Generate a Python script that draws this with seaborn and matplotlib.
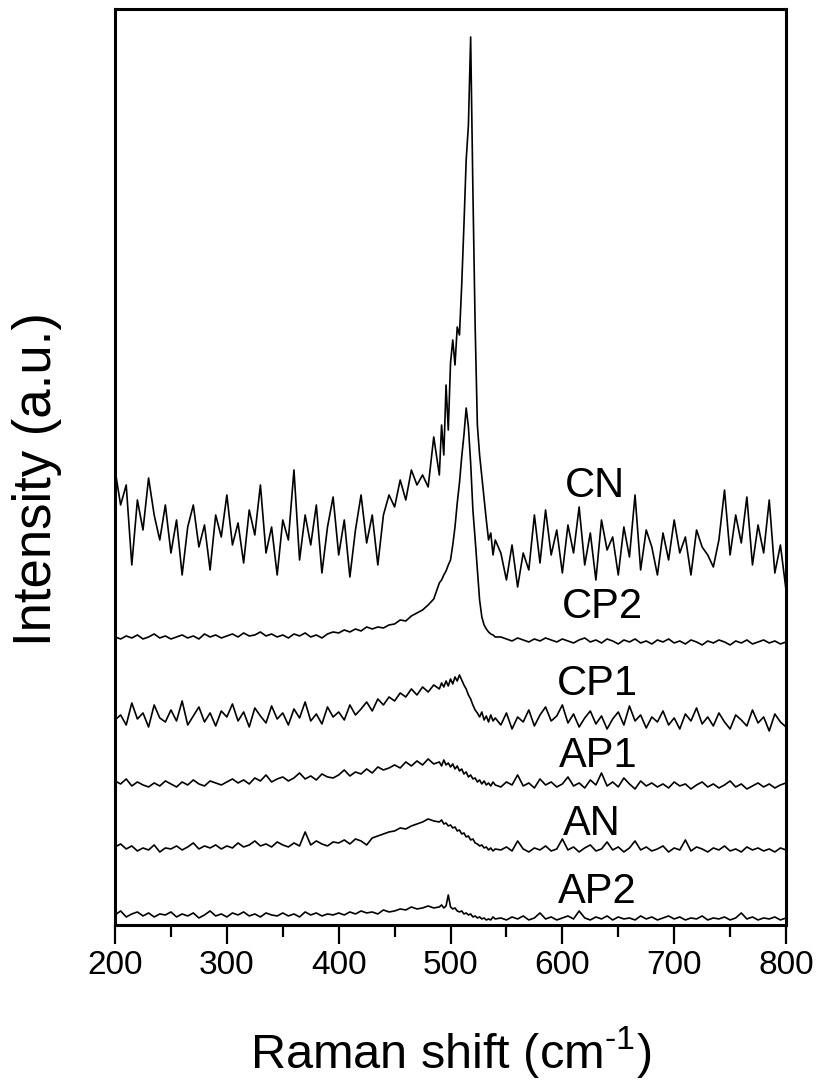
import numpy as np
import pandas as pd
import seaborn as sns
import matplotlib.pyplot as plt

# raman shift grid: 5 cm-1 steps, 2 cm-1 steps around the Si band
shift = np.concatenate([np.arange(200, 490, 5), np.arange(490, 541, 2), np.arange(545, 801, 5)])

# intensities (a.u., curves already offset as in the figure)
cn = [455, 420, 440, 360, 425, 395, 447, 410, 385, 420,
      372, 405, 350, 398, 420, 378, 400, 355, 410, 388,
      430, 380, 402, 362, 415, 390, 440, 372, 398, 350,
      405, 385, 455, 365, 410, 380, 420, 352, 398, 428,
      370, 405, 348, 395, 430, 382, 410, 360, 410, 430,
      418, 445, 425, 455, 440, 450, 438, 488,
      450, 500, 470, 540, 495, 562, 585, 560, 598, 590,
      640, 700, 765, 800, 888, 735, 600, 500, 470, 448,
      425, 405, 385, 392, 370, 385,
      372, 345, 380, 338, 372, 355, 410, 362, 415, 370,
      395, 352, 400, 372, 418, 360, 392, 345, 405, 375,
      388, 350, 398, 368, 430, 355, 395, 378, 350, 392,
      365, 405, 372, 388, 350, 395, 378, 370, 358, 385,
      435, 370, 410, 382, 428, 360, 400, 372, 425, 352,
      380, 335]

cp2 = [288, 286, 289, 287, 290, 286, 288, 291, 287, 289,
       286, 288, 290, 287, 289, 286, 291, 288, 290, 287,
       289, 291, 288, 292, 289, 290, 293, 289, 291, 288,
       290, 287, 291, 289, 292, 288, 290, 287, 291, 293,
       292, 295, 293, 296, 294, 298, 296, 298, 297, 300,
       301, 305, 304, 309, 312, 315, 320, 326,
       342, 345, 350, 354, 360, 365, 380, 398, 422, 442,
       468, 490, 517, 498, 462, 415, 386, 355, 325, 308,
       300, 296, 293, 291, 290, 288,
       288, 286, 284, 287, 285, 283, 286, 284, 287, 285,
       283, 286, 284, 282, 285, 287, 283, 285, 282, 286,
       284, 281, 285, 283, 286, 282, 284, 281, 285, 283,
       286, 282, 284, 281, 285, 283, 280, 284, 282, 285,
       283, 280, 284, 282, 285, 281, 283, 285, 282, 284,
       281, 283]

cp1 = [205, 210, 200, 222, 206, 212, 198, 220, 207, 203,
       215, 204, 224, 200, 209, 218, 203, 212, 199, 214,
       208, 221, 204, 213, 198, 217, 209, 202, 219, 206,
       212, 200, 216, 207, 223, 204, 211, 201, 218, 208,
       213, 205, 220, 210, 216, 223, 214, 226, 220, 228,
       224, 232, 228, 236, 230, 238, 233, 240,
       236, 242, 238, 244, 239, 246, 241, 248, 244, 250,
       245, 240, 236, 230, 226, 220, 215, 212, 208, 213,
       205, 209, 203, 210, 204, 207,
       200, 212, 196, 208, 203, 215, 199, 210, 218, 204,
       209, 220, 202, 211, 198, 207, 214, 201, 209, 196,
       206, 213, 200, 219, 204, 210, 197, 208, 203, 214,
       200, 207, 196, 211, 204, 217, 201, 208, 199, 212,
       203, 196, 210, 205, 199, 215, 202, 208, 194, 211,
       203, 198]

ap1 = [144, 141, 146, 139, 143, 140, 138, 142, 139, 144,
       141, 138, 143, 140, 145, 141, 139, 144, 142, 140,
       143, 146, 142, 145, 141, 147, 144, 150, 143, 146,
       148, 144, 147, 152, 146, 149, 145, 151, 148, 147,
       150, 155, 149, 153, 151, 156, 152, 158, 155, 157,
       160, 157, 163, 159, 164, 160, 166, 161,
       163, 159, 165, 160, 162, 158, 161, 156, 159, 154,
       156, 151, 153, 148, 150, 146, 147, 143, 145, 141,
       144, 140, 142, 139, 143, 140,
       138, 143, 140, 150, 139, 142, 137, 146, 140, 143,
       138, 141, 148, 139, 142, 137, 145, 140, 152, 139,
       143, 138, 147, 141, 136, 144, 139, 142, 138, 141,
       137, 143, 139, 141, 136, 140, 143, 138, 141, 137,
       140, 144, 138, 141, 136, 139, 142, 138, 141, 137,
       140, 142]

an = [78, 81, 76, 79, 74, 77, 75, 80, 73, 77,
      76, 79, 75, 78, 82, 76, 79, 77, 80, 76,
      79, 77, 82, 78, 80, 84, 79, 81, 78, 83,
      80, 78, 82, 79, 93, 80, 84, 81, 79, 83,
      82, 85, 81, 86, 84, 80, 87, 89, 91, 93,
      94, 97, 96, 99, 101, 103, 106, 104,
      103, 105, 101, 102, 99, 100, 97, 98, 94, 95,
      91, 92, 88, 89, 85, 86, 82, 81, 79, 80,
      77, 78, 75, 77, 74, 76,
      75, 78, 74, 84, 76, 73, 77, 75, 79, 74,
      76, 86, 75, 78, 73, 77, 80, 74, 76, 83,
      75, 78, 73, 77, 84, 75, 78, 74, 76, 79,
      73, 77, 75, 85, 74, 78, 76, 73, 77, 75,
      79, 74, 76, 73, 78, 75, 77, 74, 76, 73,
      77, 75]

ap2 = [10, 14, 8, 11, 13, 9, 12, 8, 11, 10,
       13, 8, 11, 9, 12, 7, 10, 14, 9, 11,
       8, 12, 10, 13, 9, 11, 8, 12, 10, 9,
       12, 9, 11, 8, 13, 10, 12, 9, 11, 10,
       12, 10, 13, 11, 14, 12, 13, 11, 15, 13,
       14, 16, 15, 18, 16, 17, 19, 17,
       18, 20, 17, 19, 30, 18, 16, 17, 14, 13,
       14, 11, 12, 10, 11, 8, 9, 7, 8, 6,
       7, 5, 6, 5, 8, 6,
       7, 5, 8, 6, 9, 5, 7, 12, 6, 8,
       5, 7, 9, 6, 14, 7, 5, 8, 6, 9,
       5, 8, 6, 7, 5, 9, 6, 8, 5, 7,
       9, 6, 8, 5, 7, 6, 9, 5, 7, 6,
       8, 5, 7, 12, 6, 8, 5, 7, 6, 8,
       5, 7]

samples = ['CN', 'CP2', 'CP1', 'AP1', 'AN', 'AP2']
label_x = [629, 636, 631, 632, 626, 631]
label_y = [428, 307, 230, 158, 90, 22]

df = pd.DataFrame({
    'shift': np.tile(shift, len(samples)),
    'intensity': np.concatenate([cn, cp2, cp1, ap1, an, ap2]),
    'sample': np.repeat(samples, len(shift)),
})

sns.set_style('ticks')
plt.rcParams['font.family'] = ['Liberation Sans', 'DejaVu Sans']
plt.rcParams['mathtext.fontset'] = 'custom'
plt.rcParams['mathtext.rm'] = 'Liberation Sans'
plt.rcParams['text.color'] = 'black'
plt.rcParams['axes.labelcolor'] = 'black'
plt.rcParams['xtick.color'] = 'black'
plt.rcParams['xtick.labelcolor'] = 'black'

fig = plt.figure(figsize=(8.24, 10.85), dpi=100)
ax = fig.add_axes([0.1396, 0.1475, 0.8143, 0.8442])

sns.lineplot(data=df, x='shift', y='intensity', hue='sample', estimator=None,
             palette={s: 'black' for s in samples}, linewidth=1.2, legend=False, ax=ax)

for s, lx, ly in zip(samples, label_x, label_y):
    ax.text(lx, ly, s, fontsize=30, ha='center', va='baseline', color='black')

ax.set_xlim(200, 800)
ax.set_ylim(0, 916)
ax.set_xticks(np.arange(200, 801, 100))
ax.set_xticks(np.arange(250, 800, 100), minor=True)
ax.set_yticks([])
ax.tick_params(axis='x', which='major', direction='out', length=14, width=1.6,
               labelsize=24, pad=4, colors='black')
ax.tick_params(axis='x', which='minor', direction='out', length=8.5, width=1.6, colors='black')
for sp in ax.spines.values():
    sp.set_linewidth(2.2)
    sp.set_color('black')

ax.set_xlabel(r'Raman shift (cm$^{\text{-1}}$)', fontsize=35, color='black')
ax.set_ylabel('Intensity (a.u.)', fontsize=38, color='black')
ax.xaxis.set_label_coords(0.5, -0.108)
ax.yaxis.set_label_coords(-0.079, 0.487)

fig.savefig('out.png', dpi=100)
